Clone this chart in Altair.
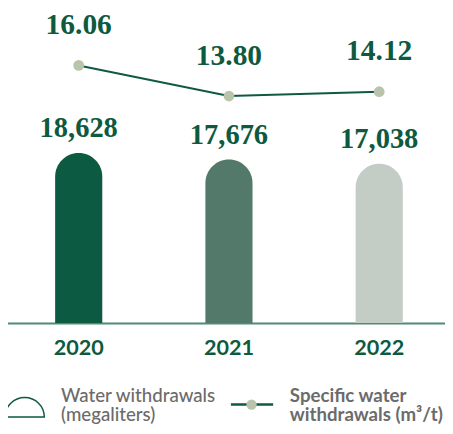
import altair as alt
import pandas as pd

years = ["2020", "2021", "2022"]
withdrawals = [18628, 17676, 17038]
withdrawal_labels = ["18,628", "17,676", "17,038"]
specific = [16.06, 13.80, 14.12]
specific_labels = ["16.06", "13.80", "14.12"]
bar_colors = ["#0c5a41", "#52796a", "#c4ccc6"]
legend_bar_label = ["Water withdrawals", "(megaliters)"]
legend_line_label = ["Specific water", "withdrawals (m³/t)"]

DARK = "#0d5a40"
GRAY = "#6b6b6b"
DOT = "#b9c4ab"
AXIS = "#4f8c74"

df = pd.DataFrame({"year": years, "w": withdrawals, "wl": withdrawal_labels,
                   "s": specific, "sl": specific_labels})
one = pd.DataFrame({"k": [0]})

W, H = 445, 317

x = alt.X("year:N",
          scale=alt.Scale(range=[-4.5, 454.5], paddingInner=0, paddingOuter=0),
          axis=alt.Axis(title=None, labelAngle=0, ticks=False, tickSize=0, labelPadding=15,
                        labelFont="Lato", labelFontSize=22, labelFontWeight="bold",
                        labelColor=DARK, domainColor=AXIS, domainWidth=2, grid=False))

ybar = alt.Y("w:Q", stack=None,
             scale=alt.Scale(domain=[-6400, 39400], zero=False, nice=False), axis=None)
yline = alt.Y("s:Q", scale=alt.Scale(domain=[-2.95, 20.02], zero=False, nice=False), axis=None)

bars = alt.Chart(df).mark_bar(size=48, cornerRadiusTopLeft=24, cornerRadiusTopRight=24).encode(
    x=x, y=ybar, y2=alt.value(H),
    color=alt.Color("year:N", scale=alt.Scale(domain=years, range=bar_colors), legend=None))

bar_text = alt.Chart(df).mark_text(font="Liberation Serif", fontSize=29, fontWeight="bold",
                                   color=DARK, baseline="alphabetic", dy=-16).encode(
    x=x, y=ybar, text="wl:N")

line = alt.Chart(df).mark_line(color=DARK, strokeWidth=2).encode(x=x, y=yline)
pts = alt.Chart(df).mark_point(filled=True, size=120, color=DOT, opacity=1).encode(x=x, y=yline)
line_text = alt.Chart(df).mark_text(font="Liberation Serif", fontSize=30, fontWeight="bold",
                                    color=DARK, baseline="alphabetic", dy=-32).encode(
    x=x, y=yline, text="sl:N")

# legend
leg_arc = alt.Chart(one).mark_point(shape="M-1,0.5A1,1,0,0,1,1,0.5Z", size=1600, filled=False,
                                    stroke=DARK, strokeWidth=1.5, opacity=1).encode(
    x=alt.value(17), y=alt.value(402.7))


def leg_line(txt, xpos, ypos, weight):
    return alt.Chart(one).mark_text(font="Lato", fontSize=19, fontWeight=weight, color=GRAY,
                                    align="left", baseline="alphabetic").encode(
        x=alt.value(xpos), y=alt.value(ypos), text=alt.value(txt))


leg_t1a = leg_line(legend_bar_label[0], 54, 397, 500)
leg_t1b = leg_line(legend_bar_label[1], 54, 417, 500)
leg_rule = alt.Chart(one).mark_rule(color=DARK, strokeWidth=2.5).encode(
    x=alt.value(227), x2=alt.value(270), y=alt.value(400))
leg_dot = alt.Chart(one).mark_point(filled=True, size=110, color=DOT, opacity=1).encode(
    x=alt.value(248), y=alt.value(400))
leg_t2a = leg_line(legend_line_label[0], 287, 397, "bold")
leg_t2b = leg_line(legend_line_label[1], 287, 417, "bold")

chart = alt.layer(bars, bar_text, line, pts, line_text,
                  leg_arc, leg_t1a, leg_t1b, leg_rule, leg_dot, leg_t2a, leg_t2b).resolve_scale(
    y="independent").properties(
    width=W, height=H,
    autosize=alt.AutoSizeParams(type="none"),
    padding={"left": 0, "top": 0, "right": 0, "bottom": 101},
).configure_view(stroke=None)

chart.save("out.html", embed_options={"renderer": "svg", "actions": False})
